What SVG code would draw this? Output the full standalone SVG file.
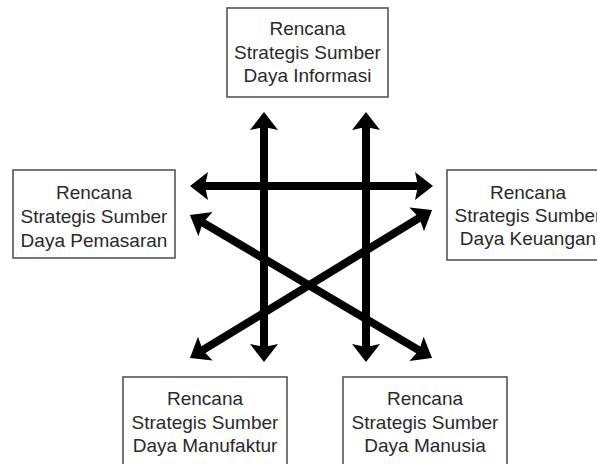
<svg xmlns="http://www.w3.org/2000/svg" width="597" height="464" viewBox="0 0 597 464">
<style>
.box{fill:#fff;stroke:#555;stroke-width:1.6}
.t{font-family:"Liberation Sans",Arial,sans-serif;font-size:19px;fill:#2a2a2a;text-anchor:middle}
.c{stroke:#000;stroke-width:8;fill:none;marker-start:url(#ah);marker-end:url(#ah)}
</style>
<defs>
<marker id="ah" markerUnits="userSpaceOnUse" markerWidth="20" markerHeight="30" refX="6" refY="14" orient="auto-start-reverse" viewBox="0 0 20 28">
<path d="M0,0 L18,14 L0,28 L3,14 z" fill="#000"/>
</marker>
</defs>
<rect width="597" height="464" fill="#fff"/>
<g id="connectors">
<line class="c" x1="264" y1="124" x2="264" y2="350"/>
<line class="c" x1="366" y1="124" x2="366" y2="350"/>
<line class="c" x1="202" y1="186" x2="421" y2="186"/>
<line class="c" x1="200.3" y1="221.1" x2="421.7" y2="351.9"/>
<line class="c" x1="421.8" y1="216.3" x2="200.2" y2="351.7"/>
</g>
<g id="informasi">
<rect class="box" x="227" y="8" width="161" height="89"/>
<text class="t" x="307.5" y="35">Rencana</text>
<text class="t" x="307.5" y="59">Strategis Sumber</text>
<text class="t" x="307.5" y="82">Daya Informasi</text>
</g>
<g id="pemasaran">
<rect class="box" x="13" y="170" width="162" height="88"/>
<text class="t" x="94" y="199">Rencana</text>
<text class="t" x="94" y="223">Strategis Sumber</text>
<text class="t" x="94" y="247">Daya Pemasaran</text>
</g>
<g id="keuangan">
<rect class="box" x="447" y="170" width="163" height="90"/>
<text class="t" x="528" y="199">Rencana</text>
<text class="t" x="528" y="222">Strategis Sumber</text>
<text class="t" x="528" y="245">Daya Keuangan</text>
</g>
<g id="manufaktur">
<rect class="box" x="123" y="377" width="164" height="100"/>
<text class="t" x="205" y="405">Rencana</text>
<text class="t" x="205" y="429">Strategis Sumber</text>
<text class="t" x="205" y="452">Daya Manufaktur</text>
</g>
<g id="manusia">
<rect class="box" x="343" y="377" width="164" height="100"/>
<text class="t" x="425" y="405">Rencana</text>
<text class="t" x="425" y="429">Strategis Sumber</text>
<text class="t" x="425" y="452">Daya Manusia</text>
</g>
</svg>
